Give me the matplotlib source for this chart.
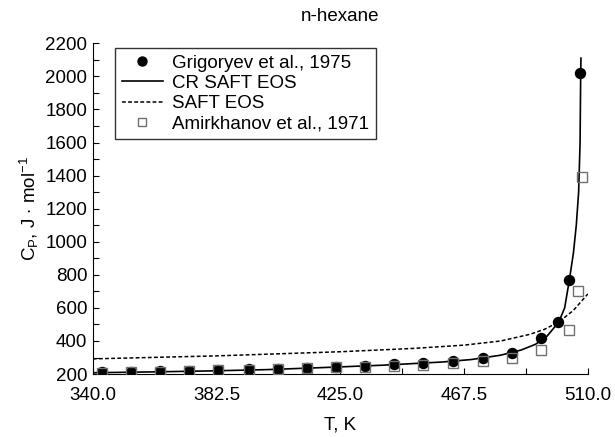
import numpy as np
import matplotlib
matplotlib.use('Agg')
import matplotlib.pyplot as plt

plt.rcParams['font.family'] = ['Liberation Sans', 'DejaVu Sans']
plt.rcParams['mathtext.fontset'] = 'custom'
plt.rcParams['mathtext.rm'] = 'Liberation Sans'
plt.rcParams['mathtext.it'] = 'Liberation Sans'

# Grigoryev et al., 1975 (filled circles)
T_grig = [343.0, 353.0, 363.0, 373.0, 383.0, 393.5, 403.5, 413.5, 423.5, 433.5,
          443.5, 453.5, 463.5, 474.0, 484.0, 494.0, 499.8, 503.6, 507.2]
cp_grig = [212, 215, 218, 221, 225, 229, 233, 238, 244, 251,
           259, 268, 280, 300, 330, 420, 515, 770, 2020]

# Amirkhanov et al., 1971 (open squares)
T_amir = [343.0, 353.0, 363.0, 373.0, 383.0, 393.5, 403.5, 413.5, 423.5, 433.5,
          443.5, 453.5, 463.5, 474.0, 484.0, 494.0, 503.6, 506.7, 508.0]
cp_amir = [208, 212, 215, 218, 222, 226, 230, 234, 240, 244,
           250, 256, 268, 280, 300, 346, 465, 702, 1390]

# CR SAFT EOS (solid)
T_cr = [340.0, 360.0, 380.0, 400.0, 420.0, 440.0, 460.0, 470.0, 480.0, 487.0,
        492.0, 496.0, 500.0, 502.0, 503.6, 505.0, 506.0, 506.8, 507.3, 507.5, 507.6]
cp_cr = [208, 213, 219, 227, 240, 254, 273, 288, 314, 345,
         380, 430, 515, 600, 766, 930, 1100, 1300, 1600, 2000, 2110]

# SAFT EOS (dashed)
T_saft = [340.0, 382.5, 425.0, 450.0, 467.5, 480.0, 490.0, 495.0, 500.0, 505.0, 510.0]
cp_saft = [292, 310, 335, 355, 375, 400, 440, 470, 515, 585, 685]

fig = plt.figure(figsize=(6.15, 4.37), dpi=100)
ax = fig.add_axes([0.151, 0.144, 0.805, 0.757])

fs = 13.5

l1, = ax.plot(T_grig, cp_grig, linestyle='', marker='o', markersize=7.2,
              color='k', zorder=3)
l2, = ax.plot(T_cr, cp_cr, color='k', linewidth=1.2, zorder=2)
l3, = ax.plot(T_saft, cp_saft, color='k', linewidth=1.1, linestyle=(0, (2.5, 1.5)), zorder=2)
l4, = ax.plot(T_amir, cp_amir, linestyle='', marker='s', markersize=6.8,
              markerfacecolor='none', markeredgecolor='#707070', markeredgewidth=1.0,
              zorder=4)

ax.set_xlim(340, 510)
ax.set_ylim(200, 2200)
ax.set_xticks(np.arange(340, 511, 42.5))
ax.set_xticklabels(['340.0', '382.5', '425.0', '467.5', '510.0'])
ax.set_xticks(np.arange(340, 511, 21.25), minor=True)
ax.set_yticks(np.arange(200, 2201, 200))
ax.set_yticks(np.arange(200, 2201, 100), minor=True)
ax.tick_params(which='both', direction='in', labelsize=fs, width=0.8, length=4)
ax.tick_params(axis='x', which='major', pad=9)
ax.tick_params(axis='y', which='major', pad=4)
ax.spines['top'].set_visible(False)
ax.spines['right'].set_visible(False)

ax.set_xlabel('T, K', fontsize=fs, labelpad=9)
ax.set_ylabel(r'C$_\mathrm{P}$, J $\cdot$ mol$^{-1}$', fontsize=fs, labelpad=3)
ax.set_title('n-hexane', fontsize=fs, pad=16)

leg = ax.legend([l1, l2, l3, l4],
                ['Grigoryev et al., 1975', 'CR SAFT EOS', 'SAFT EOS', 'Amirkhanov et al., 1971'],
                loc='upper left', bbox_to_anchor=(0.045, 0.985), fontsize=fs,
                frameon=True, fancybox=False, handlelength=2.2, labelspacing=0.16,
                borderpad=0.35, handletextpad=0.5, borderaxespad=0.0, markerscale=0.9)
leg.get_frame().set_edgecolor('k')
leg.get_frame().set_linewidth(1.0)

fig.savefig('out.png', dpi=100)
